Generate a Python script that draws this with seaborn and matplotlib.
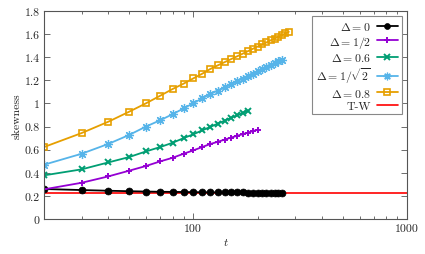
import numpy as np
import pandas as pd
import matplotlib
matplotlib.use("Agg")
import matplotlib.pyplot as plt
import matplotlib.ticker as mticker
import seaborn as sns

t_all = [20, 30, 40, 50, 60, 70, 80, 90, 100, 110, 120, 130, 140, 150, 160,
         170, 180, 190, 200, 210, 220, 230, 240, 250, 260, 270, 280]

skew_d0 = [0.260, 0.251, 0.245, 0.241, 0.238, 0.236, 0.235, 0.234, 0.233, 0.232,
           0.232, 0.231, 0.231, 0.230, 0.230, 0.230, 0.229, 0.229, 0.229, 0.229,
           0.228, 0.228, 0.228, 0.228, 0.228]
skew_d05 = [0.257, 0.314, 0.369, 0.418, 0.459, 0.499, 0.530, 0.565, 0.594, 0.623,
            0.649, 0.668, 0.687, 0.704, 0.720, 0.734, 0.748, 0.761, 0.773]
skew_d06 = [0.378, 0.430, 0.490, 0.536, 0.585, 0.623, 0.660, 0.700, 0.733, 0.767,
            0.797, 0.825, 0.851, 0.875, 0.897, 0.917, 0.937]
skew_dsq = [0.470, 0.565, 0.650, 0.727, 0.800, 0.855, 0.907, 0.957, 1.002, 1.044,
            1.081, 1.112, 1.141, 1.167, 1.192, 1.215, 1.238, 1.259, 1.279, 1.297,
            1.315, 1.333, 1.349, 1.365, 1.380]
skew_d08 = [0.623, 0.744, 0.842, 0.928, 1.001, 1.067, 1.125, 1.171, 1.217, 1.257,
            1.298, 1.329, 1.357, 1.383, 1.407, 1.430, 1.452, 1.473, 1.492, 1.511,
            1.528, 1.546, 1.561, 1.577, 1.592, 1.606, 1.620]
tw_skew = 0.2241

labels = [r"$\Delta = 0$", r"$\Delta = 1/2$", r"$\Delta = 0.6$",
          r"$\Delta = 1/\sqrt{2}$", r"$\Delta = 0.8$"]
series = [skew_d0, skew_d05, skew_d06, skew_dsq, skew_d08]
colors = ["black", "#9400D3", "#009E73", "#56B4E9", "#E69F00"]
markers = ["o", "+", "x", (8, 2, 0), "s"]

sns.set_style("ticks")
plt.rcParams["font.family"] = ["cmr10", "DejaVu Serif"]
plt.rcParams["mathtext.fontset"] = "cm"
plt.rcParams["axes.formatter.use_mathtext"] = True
plt.rcParams["axes.unicode_minus"] = False

fig = plt.figure(figsize=(4.25, 2.55), dpi=100)
ax = fig.add_axes([0.1035, 0.137, 0.854, 0.816])

for i, (lab, vals, col, mk) in enumerate(zip(labels, series, colors, markers)):
    df = pd.DataFrame({"t": t_all[:len(vals)], "skew": vals})
    kw = dict(marker=mk, markersize=5, markeredgewidth=1.4, color=col,
              markeredgecolor=col, linewidth=1.3)
    if i == 4:
        kw.update(markerfacecolor="none", markersize=4.6, markeredgewidth=1.2)
    elif i == 0:
        kw.update(markersize=5, markeredgewidth=0.5, markerfacecolor=col)
    elif i == 3:
        kw.update(markersize=6.5, markeredgewidth=0.9, markerfacecolor="none")
    sns.lineplot(data=df, x="t", y="skew", ax=ax, label=lab, **kw)

ax.axhline(tw_skew, color="red", linewidth=1.2, label="T-W", zorder=1)

ax.set_xscale("log")
ax.set_xlim(20, 1000)
ax.set_ylim(0, 1.8)
ax.set_yticks(np.arange(0, 1.81, 0.2))
ax.yaxis.set_major_formatter(mticker.FuncFormatter(lambda v, p: f"{v:g}"))
ax.xaxis.set_major_locator(mticker.FixedLocator([100, 1000]))
ax.xaxis.set_major_formatter(mticker.FuncFormatter(lambda v, p: f"{v:g}"))
ax.xaxis.set_minor_locator(mticker.LogLocator(base=10, subs=np.arange(2, 10)))
ax.xaxis.set_minor_formatter(mticker.NullFormatter())

ax.tick_params(which="both", direction="in", top=True, right=True,
               color="#555555", labelsize=8.5, pad=3)
ax.tick_params(which="major", length=4, width=0.6)
ax.tick_params(which="minor", length=2.5, width=0.6)
for s in ax.spines.values():
    s.set_color("#555555")
    s.set_linewidth(0.8)

ax.set_xlabel(r"$t$", fontsize=8.5, labelpad=2)
ax.set_ylabel("skewness", fontsize=8.5, labelpad=2)

leg = ax.legend(loc="upper right", markerfirst=False, fontsize=8.5,
                frameon=True, fancybox=False, framealpha=1, edgecolor="#888888",
                handlelength=1.8, handletextpad=0.5, labelspacing=0.15,
                borderpad=0.3, borderaxespad=0.45, markerscale=0.85)
leg.get_frame().set_linewidth(0.8)

fig.savefig("out.png", dpi=100)
